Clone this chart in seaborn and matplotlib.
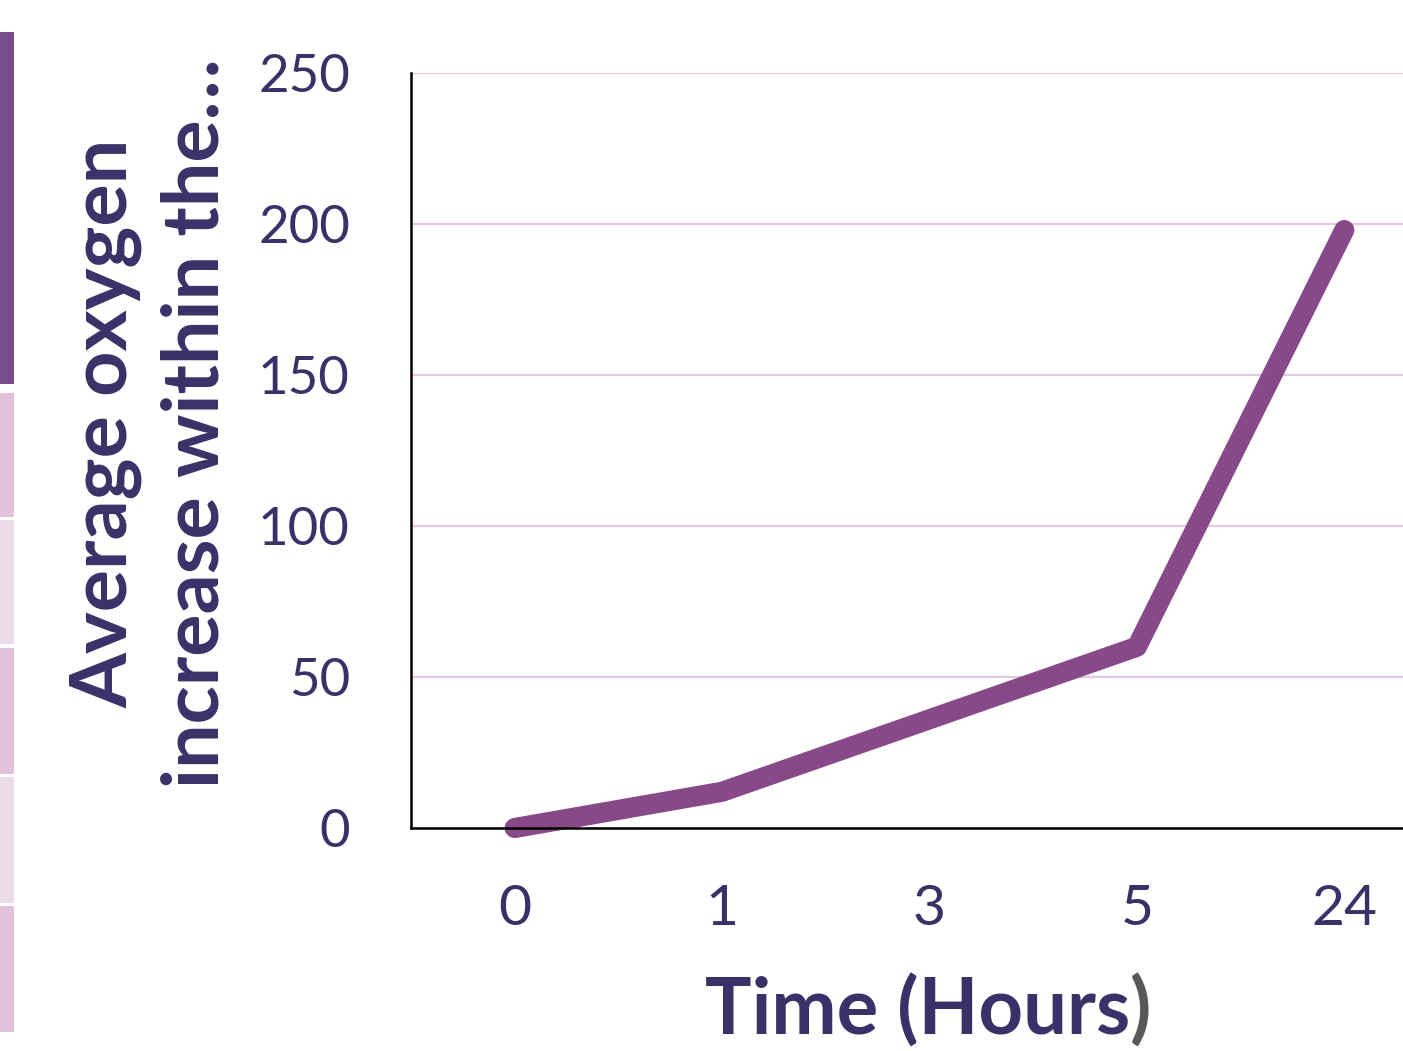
import matplotlib
matplotlib.use("Agg")
import matplotlib.pyplot as plt
from matplotlib.patches import Rectangle
import seaborn as sns
import pandas as pd

# Data
hours = ["0", "1", "3", "5", "24"]
oxygen_increase = [0, 12, 36, 60, 198]
y_ticks = [0, 50, 100, 150, 200, 250]

INK = "#3b3168"
LINE = "#874987"
GRID = "#e4c8e2"

sns.set_theme(style="white")
plt.rcParams["font.family"] = ["Lato", "DejaVu Sans"]

W, H = 1403, 1051
fig = plt.figure(figsize=(W / 100, H / 100), dpi=100)
fig.patch.set_facecolor("white")

# Decorative strips along the left edge
strips = [
    (32, 384, "#794c8a"),
    (393, 517, "#e1c2da"),
    (520, 644, "#ecdbe8"),
    (648, 774, "#e1c2da"),
    (777, 903, "#ecdbe8"),
    (906, 1032, "#e1c2da"),
]
for top, bottom, color in strips:
    fig.patches.append(Rectangle((0, 1 - bottom / H), 14 / W, (bottom - top) / H,
                                 transform=fig.transFigure, facecolor=color,
                                 edgecolor="none", zorder=0))

ax_left, ax_right = 411, 1448
ax_top, ax_bottom = 73, 828
ax = fig.add_axes([ax_left / W, 1 - ax_bottom / H, (ax_right - ax_left) / W,
                   (ax_bottom - ax_top) / H])

df = pd.DataFrame({"Time": hours, "Oxygen": oxygen_increase})
sns.lineplot(data=df, x="Time", y="Oxygen", ax=ax, color=LINE, linewidth=14.5,
             solid_capstyle="round", solid_joinstyle="round", sort=False,
             clip_on=False, zorder=3)

ax.set_xlim(-0.5, len(hours) - 0.5)
ax.set_ylim(0, 250)
ax.set_yticks(y_ticks)
ax.yaxis.grid(True, color=GRID, linewidth=1.6)
ax.xaxis.grid(False)
ax.set_axisbelow(True)

for side in ("top", "right"):
    ax.spines[side].set_visible(False)
for side in ("left", "bottom"):
    ax.spines[side].set_color("black")
    ax.spines[side].set_linewidth(1.8)
    ax.spines[side].set_zorder(4)

ax.tick_params(axis="y", length=0, pad=44, labelsize=38, labelcolor=INK)
ax.tick_params(axis="x", length=0, pad=40, labelsize=41, labelcolor=INK)
ax.set_xlabel("")
ax.set_ylabel("")

# Vertical axis title (two lines)
fig.text(151 / W, 1 - 423 / H, "Average oxygen\nincrease within the\u2026",
         rotation=90, ha="center", va="center", fontsize=57, fontweight="bold",
         color=INK, linespacing=1.32, multialignment="center")

# Horizontal axis title, closing parenthesis in grey
fig.canvas.draw()
renderer = fig.canvas.get_renderer()
t_main = fig.text(0, 1 - 1035 / H, "Time (Hours", ha="left", va="baseline",
                  fontsize=56, fontweight="bold", color=INK)
t_paren = fig.text(0, 1 - 1035 / H, ")", ha="left", va="baseline",
                   fontsize=56, fontweight="bold", color="#595959")
w_main = t_main.get_window_extent(renderer).width
w_paren = t_paren.get_window_extent(renderer).width
x0 = 928 - (w_main + w_paren) / 2
t_main.set_x(x0 / W)
t_paren.set_x((x0 + w_main) / W)

fig.savefig("out.png", dpi=100, facecolor="white")
